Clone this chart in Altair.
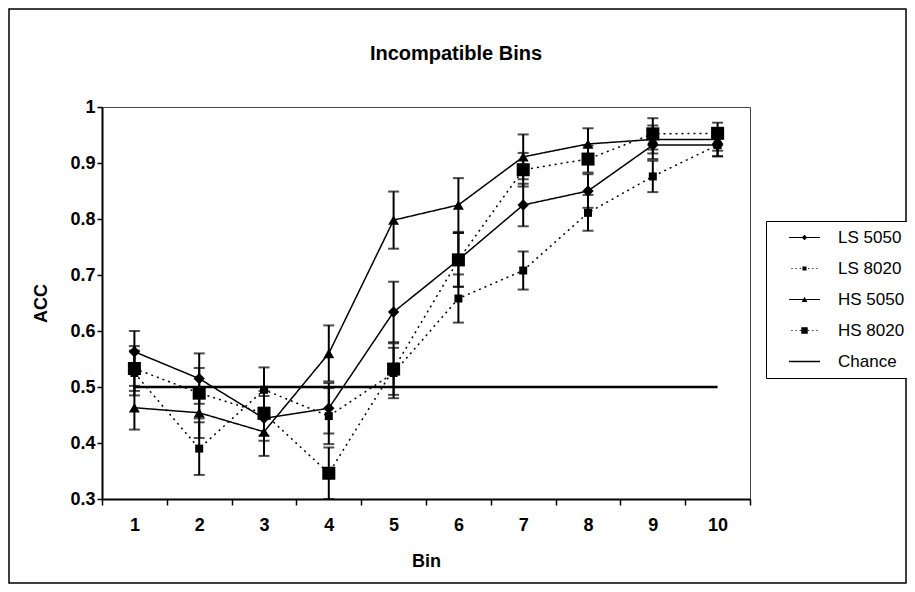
import altair as alt
import pandas as pd

# ---------------- data ----------------
bins = [1, 2, 3, 4, 5, 6, 7, 8, 9, 10]
series_names = ["LS 5050", "LS 8020", "HS 5050", "HS 8020"]
legend_names = ["LS 5050", "LS 8020", "HS 5050", "HS 8020", "Chance"]

ls5050 = [0.563, 0.515, 0.444, 0.462, 0.634, 0.727, 0.825, 0.850, 0.932, 0.932]
ls5050_err = [0.037, 0.045, 0.040, 0.045, 0.054, 0.048, 0.038, 0.030, 0.025, 0.020]

ls8020 = [0.525, 0.390, 0.495, 0.448, 0.525, 0.658, 0.708, 0.811, 0.876, 0.932]
ls8020_err = [0.040, 0.047, 0.040, 0.050, 0.045, 0.043, 0.034, 0.032, 0.028, 0.020]

hs5050 = [0.463, 0.454, 0.420, 0.560, 0.798, 0.825, 0.911, 0.934, 0.942, 0.942]
hs5050_err = [0.039, 0.045, 0.043, 0.050, 0.051, 0.048, 0.040, 0.028, 0.025, 0.020]

hs8020 = [0.533, 0.489, 0.453, 0.346, 0.532, 0.727, 0.888, 0.907, 0.952, 0.953]
hs8020_err = [0.040, 0.045, 0.040, 0.046, 0.046, 0.048, 0.030, 0.024, 0.028, 0.019]

chance = [0.5, 0.5, 0.5, 0.5, 0.5, 0.5, 0.5, 0.5, 0.5, 0.5]

y_ticks = [0.3, 0.4, 0.5, 0.6, 0.7, 0.8, 0.9, 1.0]

values = {"LS 5050": (ls5050, ls5050_err), "LS 8020": (ls8020, ls8020_err),
          "HS 5050": (hs5050, hs5050_err), "HS 8020": (hs8020, hs8020_err)}

rows = []
for name in series_names:
    v, e = values[name]
    for b, a, er in zip(bins, v, e):
        rows.append({"bin": b, "series": name, "acc": a, "lo": a - er, "hi": a + er})
df = pd.DataFrame(rows)
chance_df = pd.DataFrame({"bin": bins, "acc": chance})
legend_df = pd.DataFrame({"name": legend_names})

# ---------------- styles ----------------
FONT = "Liberation Sans"
styles = {
    "LS 5050": dict(shape="diamond", size=130, dash=[1, 0]),
    "LS 8020": dict(shape="square", size=64, dash=[2, 4]),
    "HS 5050": dict(shape="triangle-up", size=120, dash=[1, 0]),
    "HS 8020": dict(shape="square", size=170, dash=[2, 4]),
}


def hbar(x0, x1, h):
    return f"M{x0:.2f},{-h:.2f}L{x1:.2f},{-h:.2f}L{x1:.2f},{h:.2f}L{x0:.2f},{h:.2f}Z"


def dotted_line():
    return "".join(hbar(c - 0.22, c + 0.22, 0.2) for c in [-5.0, -3.33, -1.67, 1.67, 3.33, 5.0])


solid = hbar(-6.2, 6.2, 0.16)
legend_paths = [
    solid + "M0,-1.1L1.1,0L0,1.1L-1.1,0Z",
    dotted_line() + "M-0.8,-0.8L0.8,-0.8L0.8,0.8L-0.8,0.8Z",
    solid + "M0,-1.1L1.15,0.95L-1.15,0.95Z",
    dotted_line() + "M-1.3,-1.3L1.3,-1.3L1.3,1.3L-1.3,1.3Z",
    hbar(-6.2, 6.2, 0.3),
]

x_enc = alt.X(
    "bin:O",
    scale=alt.Scale(type="band", domain=bins, paddingInner=0, paddingOuter=0),
    axis=alt.Axis(title="Bin", labelAngle=0, tickBand="extent", tickSize=6,
                  tickColor="black", tickWidth=1.5, domainColor="black",
                  domainWidth=2, labelFont=FONT, labelFontSize=18,
                  labelFontWeight="bold", labelColor="black", labelPadding=11,
                  titleFont=FONT, titleFontSize=18, titleFontWeight="bold",
                  titleColor="black", titlePadding=18, grid=False),
)
y_scale = alt.Scale(domain=[0.3, 1.0], nice=False, zero=False)
y_axis = alt.Axis(title="ACC", values=y_ticks, format=".1~f", tickSize=5,
                  tickColor="black", tickWidth=1.5, domainColor="black",
                  domainWidth=2, labelFont=FONT, labelFontSize=18,
                  labelFontWeight="bold", labelColor="black", labelPadding=2,
                  titleFont=FONT, titleFontSize=18, titleFontWeight="bold",
                  titleColor="black", titlePadding=19, grid=False)


def y_of(field):
    return alt.Y(field, scale=y_scale, axis=y_axis, title="ACC")


base = alt.Chart(df)

chance_layer = alt.Chart(chance_df).mark_line(color="black", strokeWidth=2.5).encode(
    x=x_enc, y=y_of("acc:Q")
)

layers = [chance_layer]
for name in series_names:
    st = styles[name]
    sub = base.transform_filter(alt.datum.series == name)
    layers.append(sub.mark_line(color="black", strokeWidth=1.5, strokeDash=st["dash"]).encode(
        x=x_enc, y=y_of("acc:Q")))
for name in series_names:
    sub = base.transform_filter(alt.datum.series == name)
    layers.append(sub.mark_rule(color="black", strokeWidth=2).encode(
        x=x_enc, y=y_of("lo:Q"), y2="hi:Q"))
    layers.append(sub.mark_tick(color="black", size=11, thickness=2).encode(
        x=x_enc, y=y_of("lo:Q")))
    layers.append(sub.mark_tick(color="black", size=11, thickness=2).encode(
        x=x_enc, y=y_of("hi:Q")))
for name in series_names:
    st = styles[name]
    sub = base.transform_filter(alt.datum.series == name)
    layers.append(sub.mark_point(shape=st["shape"], size=st["size"], filled=True,
                                 color="black", opacity=1).encode(
        x=x_enc, y=y_of("acc:Q")))

legend_layer = alt.Chart(legend_df).mark_point(
    opacity=0, filled=True, color="black"
).encode(
    x=alt.value(0), y=alt.value(0),
    shape=alt.Shape("name:N", scale=alt.Scale(domain=legend_names, range=legend_paths),
                    legend=alt.Legend(
                        title=None, orient="none", legendX=664, legendY=114,
                        strokeColor="black", fillColor="white", padding=8,
                        symbolSize=25, symbolFillColor="black",
                        symbolStrokeWidth=0,
                        symbolOpacity=1, symbolOffset=22, labelOffset=25,
                        labelFont=FONT, labelFontSize=17, labelColor="black",
                        rowPadding=13)),
)
layers.append(legend_layer)

# outer chart frame (decoration, drawn on top without fill)
frame = alt.Chart(alt.Data(values=[{}])).mark_rect(
    filled=False, stroke="black", strokeWidth=1.5
).encode(x=alt.value(-93), x2=alt.value(804), y=alt.value(-98), y2=alt.value(476))
layers.append(frame)

chart = alt.layer(*layers).properties(
    width=648, height=392,
    autosize=alt.AutoSizeParams(type="none"),
    padding={"left": 94, "top": 99, "right": 157, "bottom": 85},
    background="white",
    title=alt.TitleParams("Incompatible Bins", font=FONT, fontSize=20,
                          fontWeight="bold", color="black", anchor="middle",
                          frame="group", offset=-56, dx=30),
).configure_view(stroke="#444", strokeWidth=1)

chart.save("out.html", embed_options={"renderer": "svg", "actions": False})
